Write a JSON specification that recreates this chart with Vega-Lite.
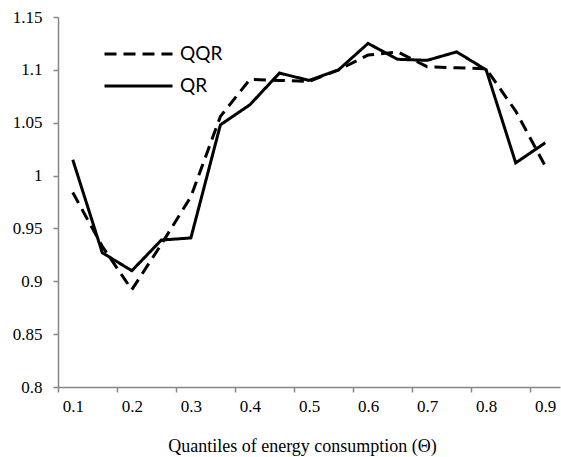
{
  "$schema": "https://vega.github.io/schema/vega-lite/v6.json",
  "width": 502,
  "height": 370,
  "autosize": {"type": "none"},
  "padding": {"left": 58, "top": 17, "right": 1, "bottom": 70},
  "background": "white",
  "config": {
    "view": {"stroke": null}
  },
  "data": {
    "values": [
      {"q": 0.10, "series": "QR", "v": 1.015},
      {"q": 0.15, "series": "QR", "v": 0.927},
      {"q": 0.20, "series": "QR", "v": 0.910},
      {"q": 0.25, "series": "QR", "v": 0.939},
      {"q": 0.30, "series": "QR", "v": 0.941},
      {"q": 0.35, "series": "QR", "v": 1.048},
      {"q": 0.40, "series": "QR", "v": 1.067},
      {"q": 0.45, "series": "QR", "v": 1.097},
      {"q": 0.50, "series": "QR", "v": 1.090},
      {"q": 0.55, "series": "QR", "v": 1.100},
      {"q": 0.60, "series": "QR", "v": 1.125},
      {"q": 0.65, "series": "QR", "v": 1.110},
      {"q": 0.70, "series": "QR", "v": 1.109},
      {"q": 0.75, "series": "QR", "v": 1.117},
      {"q": 0.80, "series": "QR", "v": 1.100},
      {"q": 0.85, "series": "QR", "v": 1.012},
      {"q": 0.90, "series": "QR", "v": 1.031},
      {"q": 0.10, "series": "QQR", "v": 0.984},
      {"q": 0.15, "series": "QQR", "v": 0.933},
      {"q": 0.20, "series": "QQR", "v": 0.892},
      {"q": 0.25, "series": "QQR", "v": 0.935},
      {"q": 0.30, "series": "QQR", "v": 0.980},
      {"q": 0.35, "series": "QQR", "v": 1.056},
      {"q": 0.40, "series": "QQR", "v": 1.091},
      {"q": 0.45, "series": "QQR", "v": 1.090},
      {"q": 0.50, "series": "QQR", "v": 1.089},
      {"q": 0.55, "series": "QQR", "v": 1.100},
      {"q": 0.60, "series": "QQR", "v": 1.114},
      {"q": 0.65, "series": "QQR", "v": 1.117},
      {"q": 0.70, "series": "QQR", "v": 1.103},
      {"q": 0.75, "series": "QQR", "v": 1.102},
      {"q": 0.80, "series": "QQR", "v": 1.101},
      {"q": 0.85, "series": "QQR", "v": 1.061},
      {"q": 0.90, "series": "QQR", "v": 1.009}
    ]
  },
  "mark": {"type": "line", "color": "black", "strokeWidth": 3, "strokeJoin": "miter"},
  "encoding": {
    "x": {
      "field": "q",
      "type": "quantitative",
      "scale": {"domain": [0.075, 0.925], "nice": false, "zero": false},
      "axis": {
        "values": [0.1, 0.2, 0.3, 0.4, 0.5, 0.6, 0.7, 0.8, 0.9],
        "format": "~g",
        "grid": false,
        "domainColor": "#868686",
        "domainWidth": 1.5,
        "tickColor": "#868686",
        "tickWidth": 1.5,
        "tickSize": 5,
        "tickOffset": -14.765,
        "labelOffset": 14.765,
        "labelPadding": 6,
        "labelFont": "Liberation Serif",
        "labelFontSize": 17,
        "labelColor": "black",
        "title": "Quantiles of energy consumption (Θ)",
        "titleFont": "Liberation Serif",
        "titleFontSize": 18,
        "titleFontWeight": "normal",
        "titleColor": "black",
        "titleX": 244,
        "titleY": 64,
        "titleBaseline": "alphabetic",
        "titleAnchor": "middle"
      }
    },
    "y": {
      "field": "v",
      "type": "quantitative",
      "scale": {"domain": [0.8, 1.15], "nice": false, "zero": false},
      "axis": {
        "values": [0.8, 0.85, 0.9, 0.95, 1, 1.05, 1.1, 1.15],
        "format": "~g",
        "grid": false,
        "domainColor": "#868686",
        "domainWidth": 1.5,
        "tickColor": "#868686",
        "tickWidth": 1.5,
        "tickSize": 5,
        "labelPadding": 11,
        "labelFont": "Liberation Serif",
        "labelFontSize": 17,
        "labelColor": "black",
        "title": null
      }
    },
    "strokeDash": {
      "field": "series",
      "type": "nominal",
      "scale": {"domain": ["QQR", "QR"], "range": [[12, 7], [1, 0]]},
      "legend": {
        "orient": "none",
        "legendX": 45,
        "legendY": 27,
        "title": null,
        "padding": 0,
        "symbolType": "stroke",
        "symbolSize": 4624,
        "symbolStrokeWidth": 3,
        "symbolStrokeColor": "black",
        "labelFont": "Lato",
        "labelFontSize": 19,
        "labelColor": "black",
        "labelOffset": 6,
        "clipHeight": 20,
        "rowPadding": 12
      }
    }
  }
}
